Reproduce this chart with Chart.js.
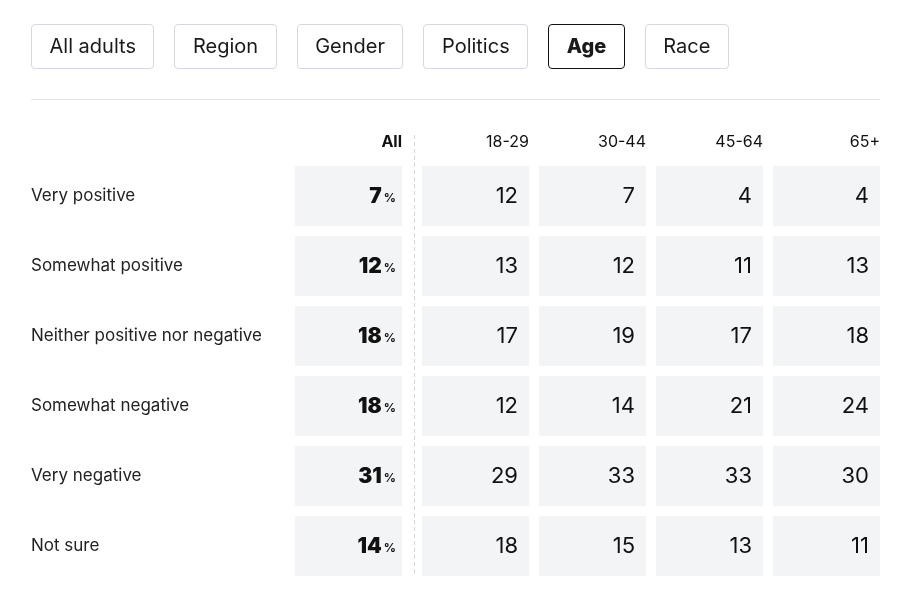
<!DOCTYPE html>
<html>
<head>
<meta charset="utf-8">
<script src="https://cdn.jsdelivr.net/npm/chart.js@4.4.1/dist/chart.umd.min.js"></script>
<style>
  body { margin: 0; background: #fff; font-family: Inter, "Noto Sans", sans-serif; }
  #wrap { position: relative; width: 910px; height: 596px; }
  #tabs { position: absolute; left: 31px; top: 24px; display: flex; gap: 20px; }
  .tab { height: 43px; line-height: 43px; padding: 0 17.5px; border: 1px solid #d5d8e2; border-radius: 4px; font-size: 20px; color: #1a1a1a; }
  .tab.on { border-color: #111; font-weight: 800; }
  #rule { position: absolute; left: 31px; top: 99px; width: 849px; border-top: 1px solid #e2e4e9; }
  canvas { position: absolute; left: 0; top: 0; }
</style>
</head>
<body>
<div id="wrap">
  <canvas id="table-chart" width="910" height="596"></canvas>
  <div id="tabs"></div>
  <div id="rule"></div>
</div>
<script>
var tabs = ["All adults", "Region", "Gender", "Politics", "Age", "Race"];
var activeTab = "Age";

var rows = [
  "Very positive",
  "Somewhat positive",
  "Neither positive nor negative",
  "Somewhat negative",
  "Very negative",
  "Not sure"
];
var columns = ["All", "18-29", "30-44", "45-64", "65+"];

var all = [7, 12, 18, 18, 31, 14];
var age18to29 = [12, 13, 17, 12, 29, 18];
var age30to44 = [7, 12, 19, 14, 33, 15];
var age45to64 = [4, 11, 17, 21, 33, 13];
var age65plus = [4, 13, 18, 24, 30, 11];

// filter buttons
var tabBox = document.getElementById("tabs");
tabs.forEach(function (name) {
  var el = document.createElement("div");
  el.className = name === activeTab ? "tab on" : "tab";
  el.textContent = name;
  tabBox.appendChild(el);
});

var series = [all, age18to29, age30to44, age45to64, age65plus];

// each column is a stack of equal cells, the numbers are written into them
var datasets = series.map(function (vals, i) {
  return {
    label: columns[i],
    values: vals,
    data: rows.map(function () { return 1; }),
    backgroundColor: "#f3f4f6",
    borderColor: "#ffffff",
    borderWidth: i === 0 ? { top: 0, bottom: 0, left: 0, right: 10 } : { top: 0, bottom: 0, left: 10, right: 0 },
    borderSkipped: false,
    barPercentage: 60 / 70,
    categoryPercentage: 1
  };
});

var cellText = {
  id: "cellText",
  afterDatasetsDraw: function (chart) {
    var ctx = chart.ctx;
    var top = chart.chartArea.top;
    ctx.save();
    ctx.fillStyle = "#111";
    ctx.textAlign = "right";
    ctx.textBaseline = "alphabetic";

    chart.data.datasets.forEach(function (ds, i) {
      var meta = chart.getDatasetMeta(i);
      var first = meta.data[0];
      var right = first.x - (i === 0 ? 10 : 0);

      // column header
      ctx.font = (i === 0 ? "bold " : "") + "16px Inter";
      ctx.fillText(ds.label, right, top - 14);

      meta.data.forEach(function (bar, j) {
        var r = bar.x - (i === 0 ? 10 : 0);
        var v = ds.values[j];
        if (i === 0) {
          ctx.font = "bold 12px Inter";
          var pw = ctx.measureText("%").width;
          ctx.fillText("%", r - 6, bar.y + 5.5);
          ctx.font = "900 21px Inter";
          ctx.fillText(String(v), r - 8 - pw, bar.y + 6.5);
        } else {
          ctx.font = "22px Inter";
          ctx.fillText(String(v), r - 11, bar.y + 6.5);
        }
      });
    });

    // dashed divider after the "All" column
    var next = chart.getDatasetMeta(1).data;
    var lx = Math.round(next[0].base) + 2.5;
    ctx.strokeStyle = "#d3d6de";
    ctx.lineWidth = 1;
    ctx.setLineDash([4, 3]);
    ctx.beginPath();
    ctx.moveTo(lx, top - 26);
    ctx.lineTo(lx, chart.chartArea.bottom - 5);
    ctx.stroke();
    ctx.restore();
  }
};

new Chart(document.getElementById("table-chart"), {
  type: "bar",
  data: {
    labels: rows,
    datasets: datasets
  },
  options: {
    indexAxis: "y",
    responsive: false,
    animation: false,
    layout: {
      padding: { left: 31, right: 30, top: 161, bottom: 15 }
    },
    plugins: {
      legend: { display: false },
      tooltip: { enabled: false }
    },
    scales: {
      x: {
        display: false,
        stacked: true,
        min: 0,
        max: columns.length
      },
      y: {
        stacked: true,
        grid: { display: false },
        border: { display: false },
        afterFit: function (scale) { scale.width = 264; },
        ticks: {
          crossAlign: "far",
          padding: 0,
          color: "#222",
          font: { family: "Inter", size: 17 }
        }
      }
    }
  },
  plugins: [cellText]
});
</script>
</body>
</html>
